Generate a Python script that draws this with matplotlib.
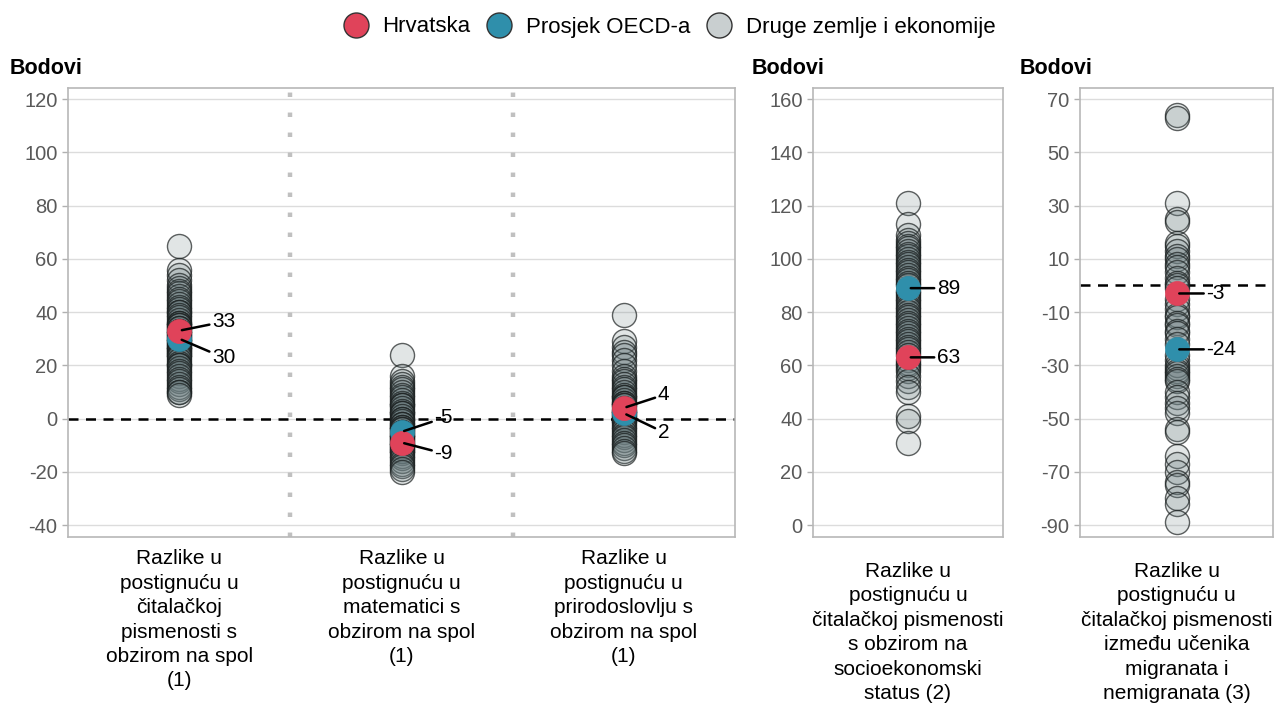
import numpy as np
import matplotlib
matplotlib.use("Agg")
from matplotlib import pyplot as plt
from matplotlib.lines import Line2D

plt.rcParams['font.family'] = ['Liberation Sans', 'DejaVu Sans']
plt.rcParams['axes.unicode_minus'] = False

# --- data (points) ---
gender_labels = ["Razlike u\npostignuću u\nčitalačkoj\npismenosti s\nobzirom na spol\n(1)",
                 "Razlike u\npostignuću u\nmatematici s\nobzirom na spol\n(1)",
                 "Razlike u\npostignuću u\nprirodoslovlju s\nobzirom na spol\n(1)"]
escs_label = "Razlike u\npostignuću u\nčitalačkoj pismenosti\ns obzirom na\nsocioekonomski\nstatus (2)"
immig_label = "Razlike u\npostignuću u\nčitalačkoj pismenosti\nizmeđu učenika\nmigranata i\nnemigranata (3)"

reading_other = [65, 56, 54, 52, 50, 49, 48, 47, 46, 45, 44, 43, 42, 41, 40, 40, 39, 38, 37, 36,
                 36, 35, 35, 34, 34, 33, 33, 32, 32, 31, 31, 30, 30, 29, 29, 28, 28, 27, 27, 26,
                 26, 25, 25, 24, 24, 23, 22, 21, 20, 20, 19, 18, 17, 16, 15, 14, 13, 12, 11, 10, 10, 9]
math_other = [24, 16, 14, 13, 12, 11, 10, 9, 8, 7, 6, 5, 5, 4, 3, 2, 2, 1, 0, 0, -1, -2, -2, -3,
              -3, -4, -4, -5, -5, -6, -6, -7, -7, -8, -8, -9, -9, -10, -10, -11, -11, -12, -12,
              -13, -14, -15, -16, -17, -18, -19, -20]
science_other = [39, 29, 27, 25, 24, 22, 20, 18, 16, 15, 14, 13, 12, 11, 10, 9, 8, 8, 7, 6, 6, 5,
                 5, 4, 3, 3, 2, 2, 1, 1, 0, 0, -1, -1, -2, -3, -4, -5, -6, -7, -8, -9, -10, -11,
                 -12, -13]
escs_other = [121, 113, 109, 107, 106, 105, 104, 103, 102, 101, 100, 99, 98, 97, 96, 95, 94, 93,
              92, 91, 90, 88, 87, 86, 85, 84, 83, 82, 81, 80, 79, 78, 77, 76, 75, 74, 73, 72, 71,
              70, 69, 68, 67, 66, 65, 64, 62, 61, 60, 59, 58, 56, 54, 52, 50, 41, 39, 31]
immig_other = [64, 63, 31, 25, 24, 16, 15, 13, 11, 10, 8, 7, 5, 3, 1, 0, -1, -5, -7, -9, -11, -12,
               -14, -15, -17, -18, -20, -22, -26, -28, -30, -31, -32, -33, -34, -35, -36, -40, -42,
               -44, -46, -48, -54, -55, -64, -67, -70, -74, -75, -80, -82, -89]

gender_hrv = [33, -9, 4]
gender_oecd = [30, -5, 2]
escs_hrv, escs_oecd = 63, 89
immig_hrv, immig_oecd = -3, -24

# label offsets in pixels (dx, dy) for Hrvatska / OECD
gender_hrv_off = [(33, 9), (33, -11), (34, 13)]
gender_oecd_off = [(33, -19), (33, 14), (34, -19)]

RED = '#e0435a'
TEAL = '#2f8fab'
GREY = '#c9cfd0'
W, H = 1274, 715
MS = 300

fig = plt.figure(figsize=(W / 100, H / 100), dpi=100)


def make_ax(left, right, top=88, bottom=537):
    ax = fig.add_axes([left / W, (H - bottom) / H, (right - left) / W, (bottom - top) / H])
    for s in ax.spines.values():
        s.set_color('#b8b8b8')
        s.set_linewidth(1.2)
    ax.grid(axis='y', color='#dcdcdc', lw=1)
    ax.set_axisbelow(True)
    ax.tick_params(axis='y', colors='#b0b0b0', labelcolor='#595959', labelsize=14.5,
                   length=4, width=1)
    ax.tick_params(axis='x', length=0, labelsize=15, labelcolor='black')
    return ax


def others(ax, x, vals):
    ax.scatter([x] * len(vals), vals, s=MS, facecolor=(0.42, 0.49, 0.50, 0.2),
               edgecolor=(0.1, 0.12, 0.12, 0.7), linewidth=1, zorder=3)


def main_pt(ax, x, y, color, off):
    ax.scatter([x], [y], s=MS, color=color, edgecolor=color, linewidth=0.5, zorder=5)
    ax.annotate(str(y), xy=(x, y), xytext=off, textcoords='offset pixels',
                ha='left', va='center', fontsize=15, zorder=6,
                arrowprops=dict(arrowstyle='-', color='black', lw=1.8, shrinkA=0, shrinkB=2))


def set_label(ax, labels, pad):
    ax.set_xticks(range(len(labels)))
    ax.set_xticklabels(labels, linespacing=1.36)
    ax.tick_params(axis='x', pad=pad)


# panel 1: gender
ax1 = make_ax(68, 735)
ax1.set_xlim(-0.5, 2.5)
ax1.set_ylim(-44.5, 124.2)
ax1.set_yticks(np.arange(-40, 121, 20))
for xs in [0.5, 1.5]:
    ax1.axvline(xs, color='#c0c0c0', lw=3.2, linestyle=(0, (1, 3.5)), zorder=1)
ax1.axhline(0, color='black', lw=1.8, dashes=(4, 3), zorder=2)
for i, vals in enumerate([reading_other, math_other, science_other]):
    others(ax1, i, vals)
    main_pt(ax1, i, gender_oecd[i], TEAL, gender_oecd_off[i])
    main_pt(ax1, i, gender_hrv[i], RED, gender_hrv_off[i])
set_label(ax1, gender_labels, 9)

# panel 2: socio-economic status
ax2 = make_ax(813, 1003)
ax2.set_xlim(-0.5, 0.5)
ax2.set_ylim(-4.5, 164.2)
ax2.set_yticks(np.arange(0, 161, 20))
others(ax2, 0, escs_other)
main_pt(ax2, 0, escs_oecd, TEAL, (29, 0))
main_pt(ax2, 0, escs_hrv, RED, (29, 0))
set_label(ax2, [escs_label], 18)

# panel 3: immigrant background
ax3 = make_ax(1080, 1273)
ax3.set_xlim(-0.5, 0.5)
ax3.set_ylim(-94.5, 74.2)
ax3.set_yticks(np.arange(-90, 71, 20))
ax3.axhline(0, color='black', lw=1.8, dashes=(4, 3), zorder=2)
others(ax3, 0, immig_other)
main_pt(ax3, 0, immig_oecd, TEAL, (30, 0))
main_pt(ax3, 0, immig_hrv, RED, (30, 0))
set_label(ax3, [immig_label], 18)

for xpos in [10, 752, 1020]:
    fig.text(xpos / W, 1 - 68 / H, 'Bodovi', fontsize=15.5, fontweight='bold', va='center')

handles = [Line2D([], [], marker='o', ls='none', markersize=18, markerfacecolor=c,
                  markeredgecolor='#333333', markeredgewidth=1)
           for c in [RED, TEAL, GREY]]
fig.legend(handles, ['Hrvatska', 'Prosjek OECD-a', 'Druge zemlje i ekonomije'],
           loc='center', bbox_to_anchor=(669 / W, 1 - 27 / H), ncol=3, frameon=False,
           fontsize=16, handletextpad=0.6, columnspacing=0.7, handlelength=1.2)

plt.savefig('out.png', dpi=100)
